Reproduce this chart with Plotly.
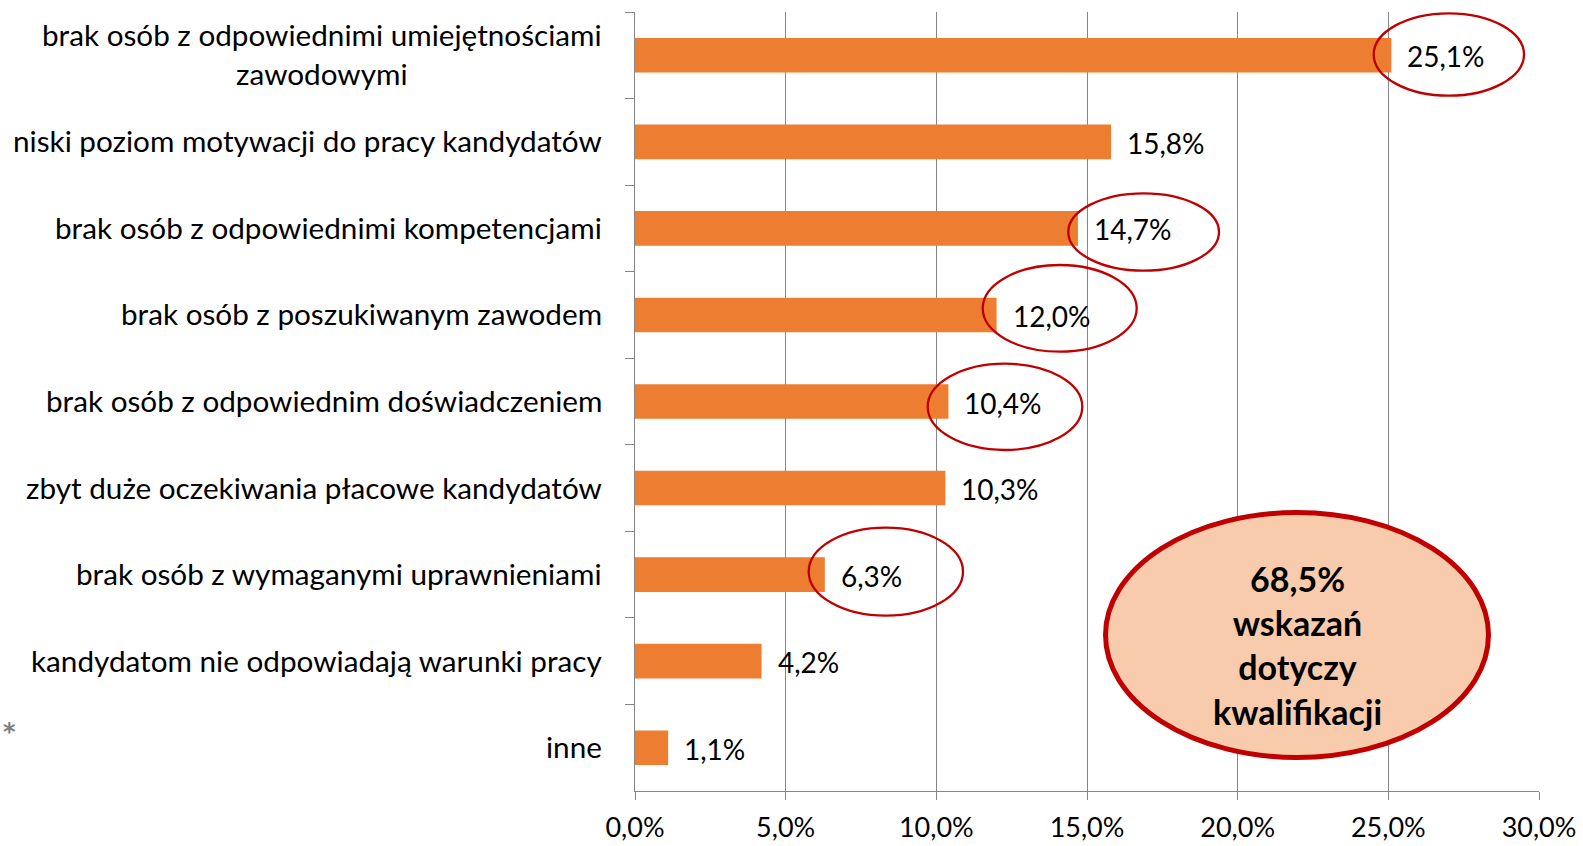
import plotly.graph_objects as go

# ---------------- data ----------------
categories = [
    "brak osób z odpowiednimi umiejętnościami<br>zawodowymi",
    "niski poziom motywacji do pracy kandydatów",
    "brak osób z odpowiednimi kompetencjami",
    "brak osób z poszukiwanym zawodem",
    "brak osób z odpowiednim doświadczeniem",
    "zbyt duże oczekiwania płacowe kandydatów",
    "brak osób z wymaganymi uprawnieniami",
    "kandydatom nie odpowiadają warunki pracy",
    "inne",
]
values = [25.1, 15.8, 14.7, 12.0, 10.4, 10.3, 6.3, 4.2, 1.1]
callout_text = ["68,5%", "wskazań", "dotyczy", "kwalifikacji"]
x_ticks = [0, 5, 10, 15, 20, 25, 30]

# ---------------- geometry / style ----------------
W, H = 1583, 846
PX0, PX1 = 635, 1539   # plot left / right (pixels)
PY0, PY1 = 12, 791     # plot top / bottom (pixels)
FONT = "Lato"
BAR = "#ED7D31"
GRID = "#868686"
RED = "#C00000"


def fx(px):
    return (px - PX0) / (PX1 - PX0)


def fy(py):
    return (PY1 - py) / (PY1 - PY0)


def fmt(v):
    return f"{v:.1f}".replace(".", ",") + "%"


fig = go.Figure()
fig.add_trace(go.Bar(
    x=values, y=categories, orientation="h",
    marker=dict(color=BAR, line=dict(width=0)),
    hoverinfo="skip", showlegend=False,
))

annotations = []
# category labels (multi-line centred within a right-anchored block)
for cat in categories:
    annotations.append(dict(
        text=cat, xref="paper", yref="y", x=0, y=cat,
        xanchor="right", yanchor="middle", align="center", xshift=-31,
        yshift=1,
        showarrow=False, font=dict(family=FONT, size=29.7, color="#000000"),
    ))
# value labels
for cat, v in zip(categories, values):
    annotations.append(dict(
        text=fmt(v), xref="x", yref="y", x=v, y=cat,
        xanchor="left", yanchor="middle", xshift=14, yshift=-1,
        showarrow=False, font=dict(family=FONT, size=28, color="#000000"),
    ))

# ellipses around highlighted labels (pixel boxes)
ellipse_boxes = [
    (1373.7, 13.3, 1524.0, 95.7),
    (1068.3, 193.3, 1219.0, 270.7),
    (982.7, 265.0, 1136.7, 351.7),
    (927.7, 363.7, 1082.3, 450.0),
    (808.7, 527.7, 963.0, 615.7),
]
shapes = []
for (x0, y0, x1, y1) in ellipse_boxes:
    shapes.append(dict(
        type="circle", xref="paper", yref="paper",
        x0=fx(x0), x1=fx(x1), y0=fy(y1), y1=fy(y0),
        line=dict(color=RED, width=2.3), fillcolor="rgba(0,0,0,0)", layer="above",
    ))
# big callout ellipse
bx0, by0, bx1, by1 = 1105.5, 512.5, 1488.5, 757.5
shapes.append(dict(
    type="circle", xref="paper", yref="paper",
    x0=fx(bx0), x1=fx(bx1), y0=fy(by1), y1=fy(by0),
    line=dict(color=RED, width=5), fillcolor="#F8CBAD", layer="above",
))
annotations.append(dict(
    text="<br>".join(f"<b>{t}</b>" for t in callout_text),
    xref="paper", yref="paper", x=fx(1297), y=fy(645),
    xanchor="center", yanchor="middle", align="center", showarrow=False,
    font=dict(family=FONT, size=34, color="#000000"),
))
# stray asterisk at the left edge
annotations.append(dict(
    text="<b>*</b>", xref="paper", yref="paper", x=fx(1), y=fy(732),
    xanchor="left", yanchor="middle", showarrow=False,
    font=dict(family="DejaVu Sans", size=24, color="#7F7F7F"),
))

fig.update_layout(
    width=W, height=H,
    margin=dict(l=PX0, r=W - PX1, t=PY0, b=H - PY1, autoexpand=False),
    paper_bgcolor="white", plot_bgcolor="white",
    separators=", ",
    bargap=0.6,
    showlegend=False,
    font=dict(family=FONT, size=27, color="#000000"),
    xaxis=dict(
        range=[0, 30], tickmode="array", tickvals=x_ticks,
        ticktext=[fmt(t) for t in x_ticks],
        showgrid=True, gridcolor=GRID, gridwidth=1,
        showline=True, linecolor=GRID, linewidth=1,
        ticks="outside", ticklen=8, tickcolor=GRID, tickwidth=1,
        zeroline=False, tickfont=dict(family=FONT, size=27, color="#000000"),
        ticklabelstandoff=5, fixedrange=True,
    ),
    yaxis=dict(
        categoryorder="array", categoryarray=categories,
        autorange="reversed", showticklabels=False,
        showline=True, linecolor=GRID, linewidth=1,
        ticks="outside", tickson="boundaries", ticklen=9,
        tickcolor=GRID, tickwidth=1, showgrid=False, zeroline=False,
        fixedrange=True,
    ),
    annotations=annotations,
    shapes=shapes,
)

fig.write_html(
    "out.html",
    config={"displayModeBar": False, "staticPlot": True},
    post_script="document.body.style.margin='0px';document.body.style.overflow='hidden';",
)
